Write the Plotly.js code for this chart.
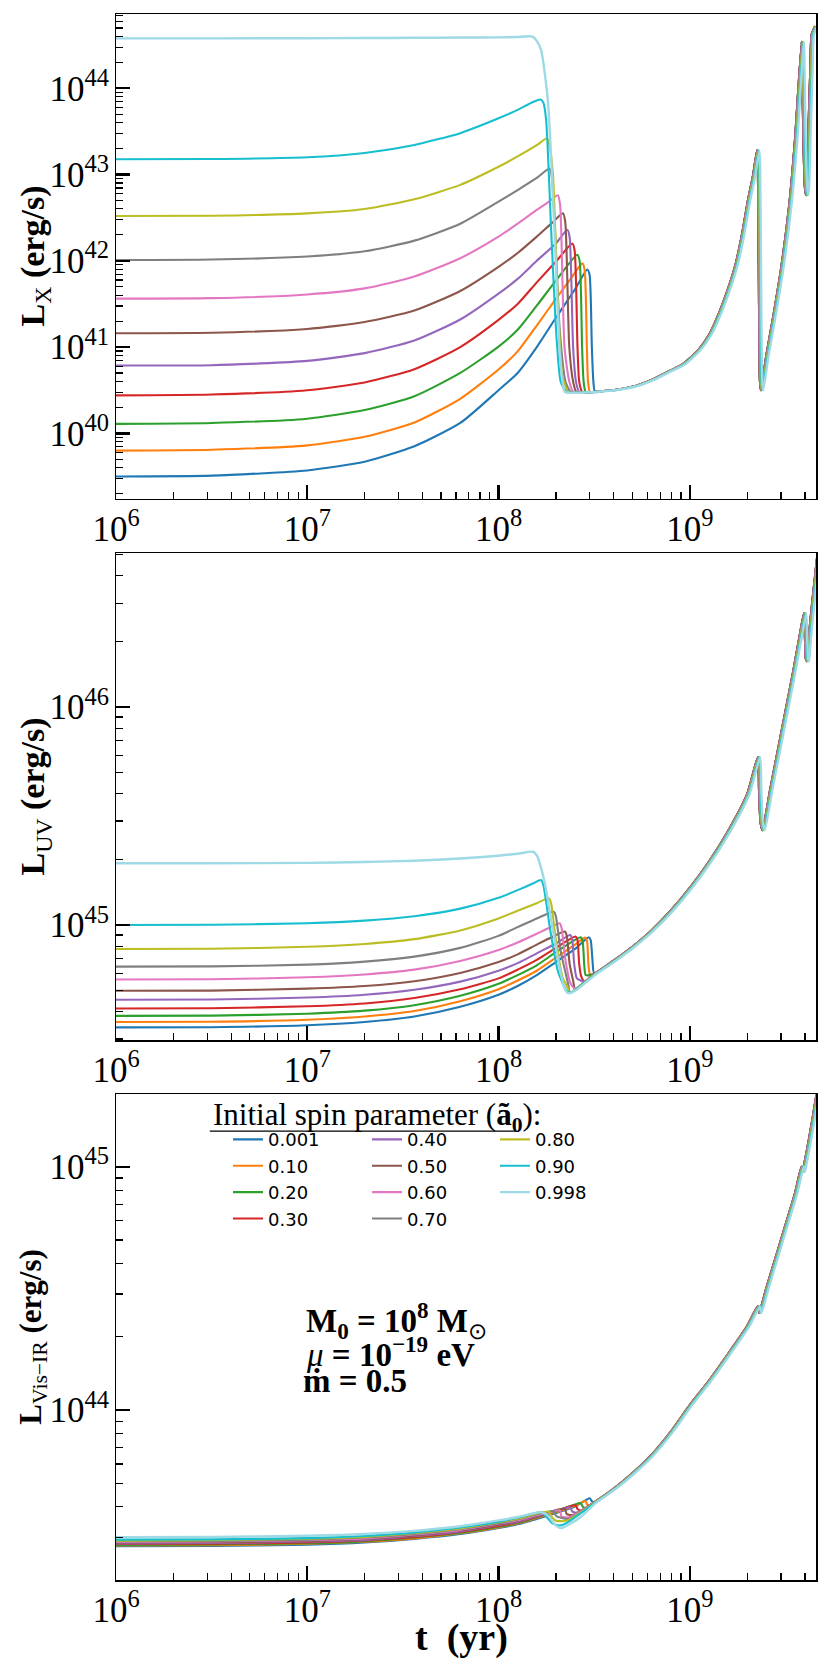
<!DOCTYPE html>
<html><head><meta charset="utf-8">
<script src="https://cdn.plot.ly/plotly-3.0.1.min.js"></script>
<style>html,body{margin:0;padding:0;background:#fff}#chart{width:830px;height:1674px}</style>
</head><body><div id="chart"></div>
<script>
// ---------------- DATA (log10 t [yr], log10 L [erg/s]) ----------------
const spins  = ['0.001','0.10','0.20','0.30','0.40','0.50','0.60','0.70','0.80','0.90','0.998'];
const colors = ['#1f77b4','#ff7f0e','#2ca02c','#d62728','#9467bd','#8c564b','#e377c2','#7f7f7f','#bcbd22','#17becf','#9edae5'];

const logT_early = [6, 6.5, 7, 7.3, 7.56, 7.8, 8.0, 8.1];

// late-time tracks of the different spins lie slightly apart (in dex of t)
const tailShift = [0, 0, 0, 0, 0, 0.001, 0.002, 0.003, 0.005, 0.008, 0.012];

// X-ray
const logLX_early = [
  [39.50, 39.51, 39.57, 39.67, 39.85, 40.12, 40.50, 40.70],
  [39.80, 39.81, 39.86, 39.96, 40.125, 40.40, 40.74, 40.95],
  [40.11, 40.12, 40.17, 40.27, 40.43, 40.70, 41.006, 41.20],
  [40.44, 40.45, 40.50, 40.59, 40.744, 41.00, 41.315, 41.50],
  [40.786, 40.79, 40.84, 40.93, 41.076, 41.32, 41.62, 41.79],
  [41.161, 41.166, 41.21, 41.29, 41.423, 41.65, 41.93, 42.09],
  [41.562, 41.567, 41.61, 41.68, 41.817, 42.03, 42.28, 42.43],
  [42.01, 42.015, 42.05, 42.11, 42.234, 42.43, 42.686, 42.82],
  [42.52, 42.523, 42.55, 42.60, 42.714, 42.88, 43.09, 43.21],
  [43.177, 43.18, 43.20, 43.25, 43.343, 43.48, 43.652, 43.75],
  [44.579, 44.579, 44.58, 44.582, 44.585, 44.588, 44.59, 44.595]
];
const logTX_peak = [
  [8.2, 8.3, 8.4, 8.464, 8.476, 8.488, 8.496, 8.505],
  [8.2, 8.3, 8.38, 8.438, 8.45, 8.462, 8.468, 8.478],
  [8.2, 8.3, 8.412, 8.424, 8.437, 8.445, 8.456],
  [8.2, 8.3, 8.386, 8.398, 8.413, 8.422, 8.438],
  [8.2, 8.3, 8.36, 8.372, 8.39, 8.405, 8.422],
  [8.2, 8.28, 8.337, 8.349, 8.37, 8.39, 8.407],
  [8.2, 8.26, 8.31, 8.322, 8.345, 8.37, 8.391],
  [8.2, 8.267, 8.28, 8.32, 8.35, 8.377],
  [8.2, 8.253, 8.265, 8.284, 8.31, 8.335, 8.363],
  [8.18, 8.22, 8.235, 8.249, 8.276, 8.302, 8.325, 8.354],
  [8.178, 8.2, 8.223, 8.258, 8.293, 8.319, 8.335, 8.346]
];
const logLX_peak = [
  [41.00, 41.34, 41.67, 41.90, 41.84, 41.0, 40.6, 40.48],
  [41.25, 41.56, 41.80, 41.97, 41.90, 41.0, 40.6, 40.48],
  [41.48, 41.77, 42.07, 42.0, 41.0, 40.6, 40.48],
  [41.75, 41.99, 42.20, 42.12, 41.0, 40.6, 40.48],
  [42.00, 42.20, 42.36, 42.27, 41.0, 40.6, 40.48],
  [42.28, 42.44, 42.55, 42.45, 41.0, 40.6, 40.48],
  [42.59, 42.68, 42.76, 42.65, 41.0, 40.6, 40.48],
  [42.96, 43.07, 42.95, 41.2, 40.6, 40.48],
  [43.34, 43.42, 43.35, 43.02, 41.55, 40.65, 40.48],
  [43.84, 43.87, 43.83, 43.63, 42.32, 41.16, 40.6, 40.48],
  [44.60, 44.55, 44.44, 43.86, 42.32, 40.97, 40.6, 40.48]
];
const logTX_tail = [8.36, 8.4, 8.45, 8.5, 8.55, 8.6, 8.7, 8.8, 8.9, 8.956, 9.0, 9.05, 9.1, 9.131, 9.18, 9.236, 9.27, 9.305, 9.33, 9.352, 9.356, 9.362, 9.367, 9.372, 9.40, 9.44, 9.48, 9.52, 9.55, 9.585, 9.588, 9.595, 9.602, 9.608, 9.613, 9.62, 9.63, 9.637, 9.655];
const logLX_tail = [40.47, 40.47, 40.475, 40.48, 40.49, 40.50, 40.54, 40.62, 40.73, 40.79, 40.87, 40.98, 41.14, 41.28, 41.55, 41.93, 42.27, 42.71, 42.98, 43.28, 43.1, 41.5, 40.6, 40.50, 40.9, 41.4, 41.95, 42.65, 43.40, 44.54, 44.2, 43.3, 42.85, 42.76, 42.9, 43.5, 44.2, 44.62, 44.72];

// UV
const logLUV_early = [
  [44.530, 44.531, 44.540, 44.555, 44.580, 44.625, 44.680, 44.720],
  [44.555, 44.556, 44.565, 44.580, 44.605, 44.650, 44.705, 44.745],
  [44.583, 44.584, 44.593, 44.607, 44.632, 44.675, 44.730, 44.770],
  [44.617, 44.618, 44.627, 44.640, 44.665, 44.705, 44.755, 44.795],
  [44.657, 44.658, 44.667, 44.680, 44.703, 44.740, 44.790, 44.825],
  [44.698, 44.699, 44.708, 44.720, 44.742, 44.780, 44.830, 44.865],
  [44.750, 44.751, 44.760, 44.773, 44.795, 44.835, 44.885, 44.920],
  [44.809, 44.810, 44.818, 44.832, 44.855, 44.895, 44.950, 44.990],
  [44.890, 44.891, 44.900, 44.913, 44.935, 44.975, 45.030, 45.065],
  [45.000, 45.001, 45.008, 45.020, 45.040, 45.075, 45.125, 45.160],
  [45.283, 45.283, 45.285, 45.289, 45.295, 45.305, 45.318, 45.327]
];
const logTUV_peak = [
  [8.2, 8.3, 8.4, 8.472, 8.482, 8.492, 8.50],
  [8.2, 8.3, 8.4, 8.453, 8.463, 8.47, 8.478],
  [8.2, 8.3, 8.43, 8.44, 8.448, 8.456],
  [8.2, 8.3, 8.403, 8.413, 8.422, 8.432],
  [8.2, 8.3, 8.375, 8.385, 8.396, 8.41],
  [8.2, 8.28, 8.347, 8.357, 8.372, 8.39],
  [8.2, 8.26, 8.32, 8.33, 8.35, 8.375],
  [8.2, 8.29, 8.3, 8.325, 8.365],
  [8.2, 8.264, 8.275, 8.3, 8.335, 8.36],
  [8.18, 8.222, 8.235, 8.27, 8.31, 8.355],
  [8.18, 8.2, 8.24, 8.28, 8.32, 8.345, 8.365]
];
const logLUV_peak = [
  [44.77, 44.83, 44.89, 44.944, 44.93, 44.83, 44.78],
  [44.79, 44.85, 44.91, 44.942, 44.925, 44.82, 44.775],
  [44.815, 44.875, 44.944, 44.925, 44.82, 44.77],
  [44.84, 44.895, 44.947, 44.93, 44.82, 44.765],
  [44.87, 44.915, 44.954, 44.935, 44.82, 44.755],
  [44.91, 44.945, 44.97, 44.95, 44.82, 44.745],
  [44.96, 44.985, 45.008, 44.985, 44.84, 44.735],
  [45.03, 45.06, 45.04, 44.88, 44.725],
  [45.10, 45.122, 45.10, 44.93, 44.76, 44.715],
  [45.19, 45.206, 45.18, 44.98, 44.79, 44.70],
  [45.336, 45.32, 45.20, 45.00, 44.80, 44.71, 44.687]
];
const logTUV_tail = [8.37, 8.4, 8.45, 8.5, 8.6, 8.7, 8.8, 8.9, 9.0, 9.1, 9.2, 9.3, 9.356, 9.362, 9.37, 9.38, 9.42, 9.46, 9.5, 9.54, 9.575, 9.597, 9.602, 9.607, 9.612, 9.62, 9.64, 9.667];
const logLUV_tail = [44.69, 44.705, 44.74, 44.775, 44.835, 44.90, 44.975, 45.065, 45.17, 45.29, 45.43, 45.60, 45.77, 45.62, 45.47, 45.435, 45.62, 45.80, 45.98, 46.16, 46.33, 46.43, 46.32, 46.22, 46.21, 46.30, 46.48, 46.70];

// Visible - IR
const logLVIS_early = [
  [43.440, 43.441, 43.446, 43.455, 43.470, 43.490, 43.515, 43.530],
  [43.443, 43.444, 43.450, 43.458, 43.472, 43.493, 43.517, 43.533],
  [43.445, 43.447, 43.452, 43.461, 43.476, 43.495, 43.520, 43.535],
  [43.449, 43.450, 43.455, 43.464, 43.478, 43.499, 43.523, 43.539],
  [43.451, 43.453, 43.459, 43.466, 43.482, 43.501, 43.527, 43.541],
  [43.455, 43.456, 43.461, 43.470, 43.484, 43.505, 43.529, 43.545],
  [43.457, 43.459, 43.465, 43.472, 43.488, 43.507, 43.533, 43.547],
  [43.461, 43.462, 43.467, 43.476, 43.490, 43.511, 43.535, 43.551],
  [43.463, 43.465, 43.471, 43.478, 43.494, 43.513, 43.539, 43.553],
  [43.467, 43.468, 43.473, 43.482, 43.496, 43.517, 43.541, 43.557],
  [43.477, 43.478, 43.483, 43.490, 43.503, 43.522, 43.546, 43.560]
];
const logTVIS_peak = [
  [8.2, 8.3, 8.4, 8.477, 8.488, 8.50],
  [8.2, 8.3, 8.4, 8.453, 8.463, 8.478],
  [8.2, 8.3, 8.43, 8.44, 8.456],
  [8.2, 8.3, 8.403, 8.413, 8.432],
  [8.2, 8.3, 8.375, 8.385, 8.41],
  [8.2, 8.28, 8.347, 8.357, 8.39],
  [8.2, 8.26, 8.32, 8.33, 8.375],
  [8.2, 8.29, 8.30, 8.365],
  [8.2, 8.264, 8.275, 8.30, 8.36],
  [8.18, 8.222, 8.24, 8.28, 8.32, 8.355],
  [8.18, 8.22, 8.26, 8.30, 8.33, 8.37, 8.43]
];
const logLVIS_peak = [
  [43.552, 43.576, 43.603, 43.637, 43.625, 43.618],
  [43.556, 43.580, 43.606, 43.626, 43.612, 43.607],
  [43.559, 43.583, 43.617, 43.603, 43.597],
  [43.561, 43.585, 43.608, 43.593, 43.587],
  [43.563, 43.587, 43.600, 43.583, 43.578],
  [43.566, 43.584, 43.593, 43.572, 43.568],
  [43.568, 43.578, 43.587, 43.562, 43.560],
  [43.571, 43.584, 43.565, 43.552],
  [43.574, 43.582, 43.565, 43.545, 43.546],
  [43.573, 43.580, 43.570, 43.535, 43.525, 43.535],
  [43.575, 43.580, 43.565, 43.525, 43.515, 43.530, 43.560]
];
const logTVIS_tail = [8.5, 8.6, 8.7, 8.8, 8.9, 9.0, 9.1, 9.2, 9.3, 9.355, 9.362, 9.372, 9.4, 9.45, 9.5, 9.55, 9.584, 9.59, 9.598, 9.62, 9.64, 9.665];
const logLVIS_tail = [43.62, 43.675, 43.74, 43.815, 43.91, 44.02, 44.12, 44.23, 44.345, 44.425, 44.40, 44.42, 44.50, 44.63, 44.76, 44.89, 45.00, 44.98, 45.01, 45.10, 45.19, 45.31];

// ---------------- BUILD ----------------
function series(i, early, tPk, lPk, tTail, lTail) {
  const lt = logT_early.concat(tPk[i]);
  const ll = early[i].concat(lPk[i]);
  const last = tPk[i][tPk[i].length - 1];
  tTail.forEach((t, k) => {
    const ts = t + tailShift[i];
    if (ts > last + 1e-9) { lt.push(ts); ll.push(lTail[k]); }
  });
  return { x: lt.map(v => Math.pow(10, v)), y: ll.map(v => Math.pow(10, v)) };
}
const legendFor = i => (i < 4 ? 'legend' : (i < 8 ? 'legend2' : 'legend3'));
const traces = [];
const panels = [
  [logLX_early, logTX_peak, logLX_peak, logTX_tail, logLX_tail, 'x', 'y'],
  [logLUV_early, logTUV_peak, logLUV_peak, logTUV_tail, logLUV_tail, 'x2', 'y2'],
  [logLVIS_early, logTVIS_peak, logLVIS_peak, logTVIS_tail, logLVIS_tail, 'x3', 'y3']
];
panels.forEach((p, pi) => {
  spins.forEach((s, i) => {
    const d = series(i, p[0], p[1], p[2], p[3], p[4]);
    traces.push({
      type: 'scatter', mode: 'lines', x: d.x, y: d.y, xaxis: p[5], yaxis: p[6],
      name: s, legendgroup: 'g' + i, showlegend: pi === 2, legend: legendFor(i),
      line: { color: colors[i], width: i === 10 ? 2.4 : 2.1, shape: 'spline', smoothing: 0.6 },
      hoverinfo: 'skip'
    });
  });
});

const serif = 'Liberation Serif';
const tickFont = { family: serif, size: 28, color: 'black' };
function ax(extra) {
  return Object.assign({
    type: 'log', showline: true, mirror: true, linecolor: 'black', linewidth: 1.5,
    ticks: 'inside', ticklen: 14, tickwidth: 2.4, tickcolor: 'black', dtick: 1,
    exponentformat: 'power', tickfont: tickFont, showgrid: false, zeroline: false,
    minor: { ticks: 'inside', ticklen: 7, tickwidth: 1.2, tickcolor: 'black', dtick: 'D1', showgrid: false }
  }, extra);
}
const legStyle = (x) => ({
  x: x, y: 0.2930, xanchor: 'left', yanchor: 'top', bgcolor: 'rgba(0,0,0,0)', borderwidth: 0,
  font: { family: 'DejaVu Sans', size: 18, color: 'black' }, tracegroupgap: 0
});

const layout = {
  width: 830, height: 1674,
  margin: { l: 116, r: 14, t: 14, b: 94 },
  paper_bgcolor: 'white', plot_bgcolor: 'white',
  showlegend: true,
  xaxis:  ax({ domain: [0, 1], anchor: 'y',  range: [6, 9.66] }),
  xaxis2: ax({ domain: [0, 1], anchor: 'y2', range: [6, 9.66] }),
  xaxis3: ax({ domain: [0, 1], anchor: 'y3', range: [6, 9.66] }),
  yaxis:  ax({ domain: [0.6903, 1], anchor: 'x',  range: [39.239, 44.861] }),
  yaxis2: ax({ domain: [0.3448, 0.6558], anchor: 'x2', range: [44.472, 46.707] }),
  yaxis3: ax({ domain: [0, 0.3103], anchor: 'x3', range: [43.301, 45.299] }),
  legend: legStyle(0.160),
  legend2: legStyle(0.3586),
  legend3: legStyle(0.5414),
  shapes: [
    { type: 'line', xref: 'paper', yref: 'paper', x0: 0.134, x1: 0.571, y0: 0.2866, y1: 0.2866, line: { color: 'black', width: 1.2 } }
  ],
  annotations: [
    { xref: 'paper', yref: 'paper', x: -0.1157, y: 0.8452, xanchor: 'center', yanchor: 'middle', textangle: -90, showarrow: false,
      text: '<b>L</b><sub>X</sub><b> (erg/s)</b>', font: { family: serif, size: 34, color: 'black' } },
    { xref: 'paper', yref: 'paper', x: -0.1157, y: 0.5003, xanchor: 'center', yanchor: 'middle', textangle: -90, showarrow: false,
      text: '<b>L</b><sub>UV</sub><b> (erg/s)</b>', font: { family: serif, size: 34, color: 'black' } },
    { xref: 'paper', yref: 'paper', x: -0.1190, y: 0.1552, xanchor: 'center', yanchor: 'middle', textangle: -90, showarrow: false,
      text: '<b>L</b><sub>Vis−IR</sub><b> (erg/s)</b>', font: { family: serif, size: 31, color: 'black' } },
    { xref: 'paper', yref: 'paper', x: 0.493, y: -0.0365, xanchor: 'center', yanchor: 'middle', showarrow: false,
      text: '<b>t\u2002(yr)</b>', font: { family: serif, size: 38, color: 'black' } },
    { xref: 'paper', yref: 'paper', x: 0.373, y: 0.2957, xanchor: 'center', yanchor: 'middle', showarrow: false,
      text: 'Initial spin parameter (<b>ã<sub>0</sub></b>):', font: { family: serif, size: 31, color: 'black' } },
    { xref: 'paper', yref: 'paper', x: 0.2686, y: 0.1660, xanchor: 'left', yanchor: 'middle', showarrow: false,
      text: '<b>M<sub>0</sub> = 10<sup>8</sup> M</b><sub>⊙</sub>', font: { family: serif, size: 33, color: 'black' } },
    { xref: 'paper', yref: 'paper', x: 0.2686, y: 0.1456, xanchor: 'left', yanchor: 'middle', showarrow: false,
      text: '<i>μ</i><b> = 10<sup>−19</sup> eV</b>', font: { family: serif, size: 33, color: 'black' } },
    { xref: 'paper', yref: 'paper', x: 0.2646, y: 0.1270, xanchor: 'left', yanchor: 'middle', showarrow: false,
      text: '<b>ṁ = 0.5</b>', font: { family: serif, size: 33, color: 'black' } }
  ]
};

Plotly.newPlot('chart', traces, layout, { staticPlot: true, displayModeBar: false });
</script>
</body></html>
